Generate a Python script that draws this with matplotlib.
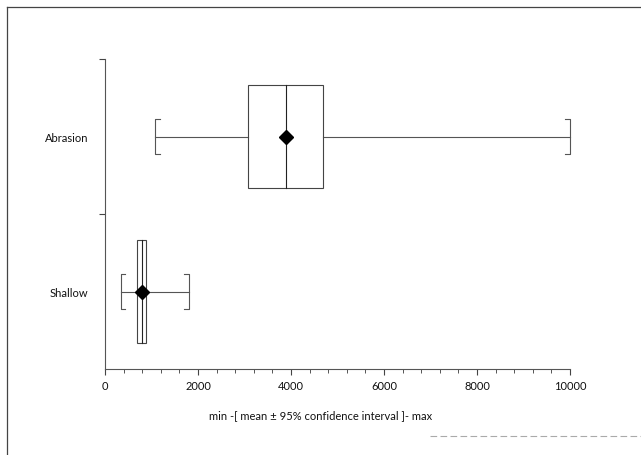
import matplotlib
matplotlib.use("Agg")
import matplotlib.pyplot as plt
from matplotlib.patches import Rectangle
from matplotlib.lines import Line2D
from matplotlib.ticker import MultipleLocator, FixedLocator

categories = ["Shallow", "Abrasion"]
mins = [340, 1080]
ci_low = [690, 3075]
means = [795, 3890]
ci_high = [880, 4690]
maxs = [1800, 10000]

plt.rcParams['font.family'] = ['Lato', 'DejaVu Sans']

fig = plt.figure(figsize=(6.41, 4.56), dpi=100)
ax = fig.add_axes([0.1638, 0.1886, 0.7254, 0.6798])

lw = 0.8
box_h = 0.67
cap_h = 0.113
stub = 100

for i, cat in enumerate(categories):
    y = i + 0.5
    # whiskers
    ax.plot([mins[i], ci_low[i]], [y, y], color="#555555", lw=lw, zorder=2, clip_on=False)
    ax.plot([ci_high[i], maxs[i]], [y, y], color="#555555", lw=lw, zorder=2, clip_on=False)
    # box
    ax.add_patch(Rectangle((ci_low[i], y - box_h / 2), ci_high[i] - ci_low[i], box_h,
                           fill=False, edgecolor="#444444", lw=lw, zorder=3))
    # mean line
    ax.plot([means[i], means[i]], [y - box_h / 2, y + box_h / 2], color="#222222", lw=lw, zorder=3)
    # caps (bracket shape)
    ax.plot([mins[i] + stub, mins[i], mins[i], mins[i] + stub],
            [y + cap_h, y + cap_h, y - cap_h, y - cap_h], color="#555555", lw=lw, zorder=2,
            clip_on=False)
    ax.plot([maxs[i] - stub, maxs[i], maxs[i], maxs[i] - stub],
            [y + cap_h, y + cap_h, y - cap_h, y - cap_h], color="#555555", lw=lw, zorder=2,
            clip_on=False)
    # mean marker
    ax.plot([means[i]], [y], marker="D", color="black", markersize=7, zorder=4)

ax.set_xlim(0, 10000)
ax.set_ylim(0, 2)
ax.xaxis.set_major_locator(MultipleLocator(2000))
ax.xaxis.set_minor_locator(MultipleLocator(400))
ax.yaxis.set_major_locator(FixedLocator([0.5, 1.5]))
ax.set_yticklabels(categories)
ax.yaxis.set_minor_locator(FixedLocator([1.0, 2.0]))
ax.tick_params(axis='y', which='major', length=0, pad=12, labelsize=8, colors="#111111")
ax.tick_params(axis='y', which='minor', length=4, width=0.8, color="#444444")
ax.tick_params(axis='x', which='major', length=4, width=0.8, color="#444444", labelsize=8,
               labelcolor="#111111", pad=4)
ax.tick_params(axis='x', which='minor', length=3, width=0.7, color="#555555")
ax.spines['top'].set_visible(False)
ax.spines['right'].set_visible(False)
for s in ['left', 'bottom']:
    ax.spines[s].set_color("#555555")
    ax.spines[s].set_linewidth(0.8)
ax.set_xlabel("min -[ mean ± 95% confidence interval ]- max", fontsize=8, color="#111111")
ax.xaxis.set_label_coords(0.4645, -0.13)

# scanned page frame lines
fig.add_artist(Line2D([7 / 641, 1.0], [1 - 8 / 456, 1 - 8 / 456], transform=fig.transFigure,
                      color="#444444", lw=0.9))
fig.add_artist(Line2D([7 / 641, 7 / 641], [0.0, 1 - 8 / 456], transform=fig.transFigure,
                      color="#444444", lw=0.9))
fig.add_artist(Line2D([430 / 641, 1.0], [1 - 437 / 456, 1 - 437 / 456], transform=fig.transFigure,
                      color="#aaaaaa", lw=0.8, ls=(0, (6, 3))))

fig.savefig("out.png", dpi=100)
